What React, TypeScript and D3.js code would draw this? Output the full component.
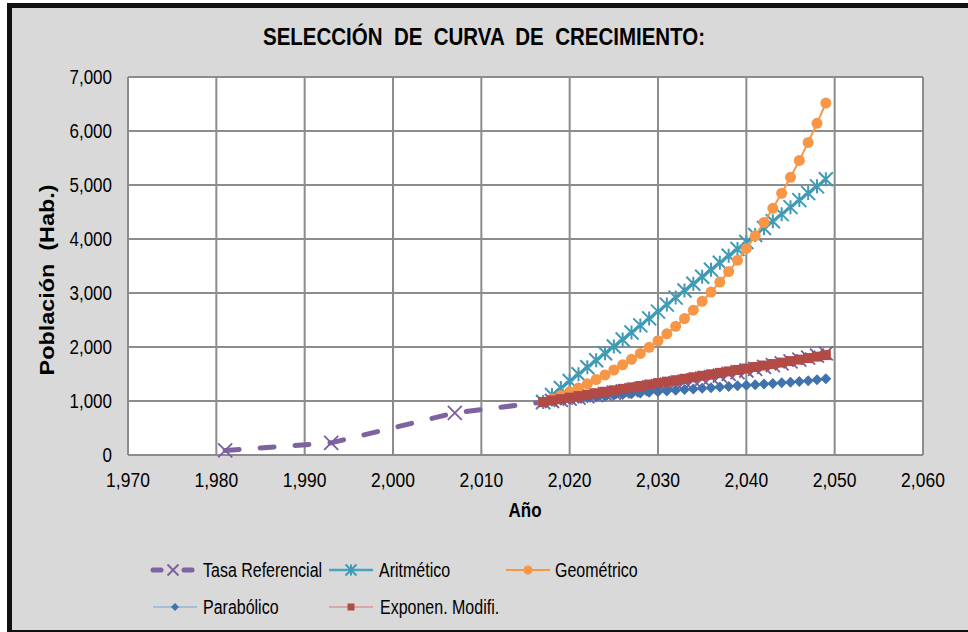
import React, { useRef, useEffect } from 'react'
import * as d3 from 'd3'

// años de proyección 2017..2049
const projYears = [2017, 2018, 2019, 2020, 2021, 2022, 2023, 2024, 2025, 2026, 2027, 2028, 2029, 2030, 2031, 2032, 2033,
  2034, 2035, 2036, 2037, 2038, 2039, 2040, 2041, 2042, 2043, 2044, 2045, 2046, 2047, 2048, 2049]

const tasaYears = [1981, 1993, 2007, ...projYears]
const tasaValues = [85, 225, 780, 980, 1000, 1021, 1042, 1063, 1085, 1107, 1130, 1153, 1177, 1201, 1226, 1251, 1277, 1303,
  1330, 1357, 1385, 1414, 1443, 1472, 1503, 1533, 1565, 1597, 1630, 1663, 1698, 1733, 1768, 1805, 1842, 1880]

const aritmetico = [980, 1110, 1240, 1370, 1495, 1625, 1755, 1885, 2010, 2140, 2270, 2400, 2530, 2655, 2785, 2915, 3045,
  3170, 3300, 3430, 3560, 3690, 3815, 3945, 4075, 4205, 4330, 4460, 4590, 4720, 4850, 4975, 5105]

const geometrico = [980, 1040, 1103, 1170, 1242, 1318, 1398, 1483, 1574, 1670, 1772, 1880, 1994, 2116, 2245, 2382, 2527,
  2681, 2845, 3018, 3203, 3398, 3605, 3825, 4058, 4306, 4568, 4847, 5143, 5456, 5789, 6142, 6517]

const parabolico = [980, 997, 1013, 1029, 1045, 1060, 1075, 1090, 1105, 1119, 1133, 1147, 1160, 1173, 1186, 1199, 1211,
  1223, 1235, 1247, 1258, 1270, 1281, 1292, 1303, 1314, 1325, 1336, 1347, 1360, 1375, 1392, 1410]

const exponencial = [980, 1010, 1035, 1062, 1090, 1117, 1144, 1171, 1198, 1225, 1252, 1278, 1305, 1332, 1358, 1385, 1412,
  1440, 1467, 1494, 1521, 1548, 1575, 1602, 1630, 1657, 1684, 1711, 1739, 1766, 1795, 1822, 1850]

const xTicks = [1970, 1980, 1990, 2000, 2010, 2020, 2030, 2040, 2050, 2060]
const yTicks = [0, 1000, 2000, 3000, 4000, 5000, 6000, 7000]

const title = 'SELECCIÓN  DE  CURVA  DE  CRECIMIENTO:'
const xTitle = 'Año'
const yTitle = 'Población  (Hab.)'

const W = 968
const H = 632
const FONT = 'Liberation Sans, Arial, sans-serif'

const series = [
  { name: 'Tasa Referencial', x: tasaYears, y: tasaValues, line: '#7f63a1', width: 5, dash: '14,21', marker: 'x', fill: '#7a5e9e' },
  { name: 'Aritmético', x: projYears, y: aritmetico, line: '#4aa3bd', width: 2.5, dash: null, marker: 'star', fill: '#3f9bb5' },
  { name: 'Geométrico', x: projYears, y: geometrico, line: '#f79646', width: 2, dash: null, marker: 'circle', fill: '#f79646' },
  { name: 'Parabólico', x: projYears, y: parabolico, line: '#95b3d7', width: 1.5, dash: null, marker: 'diamond', fill: '#4072ab' },
  { name: 'Exponen. Modifi.', x: projYears, y: exponencial, line: '#d99694', width: 1.5, dash: null, marker: 'square', fill: '#b24a46' },
]

function drawMarker(g: any, kind: string, color: string, s: number) {
  if (kind === 'x') {
    g.append('path').attr('d', `M${-s},${-s}L${s},${s}M${-s},${s}L${s},${-s}`)
      .attr('stroke', color).attr('stroke-width', 1.8).attr('fill', 'none')
  } else if (kind === 'star') {
    g.append('path').attr('d', `M${-s},${-s}L${s},${s}M${-s},${s}L${s},${-s}M0,${-s}L0,${s}`)
      .attr('stroke', color).attr('stroke-width', 2).attr('fill', 'none')
  } else if (kind === 'circle') {
    g.append('circle').attr('r', s).attr('fill', color)
  } else if (kind === 'diamond') {
    g.append('path').attr('d', `M0,${-s}L${s},0L0,${s}L${-s},0Z`).attr('fill', color)
  } else if (kind === 'square') {
    g.append('rect').attr('x', -s).attr('y', -s).attr('width', 2 * s).attr('height', 2 * s).attr('fill', color)
  }
}

const markerSize: Record<string, number> = { x: 7, star: 7, circle: 5.5, diamond: 5.5, square: 5 }

// sx: escala a lo largo del texto, sy: escala transversal
function addText(parent: any, x: number, y: number, txt: string, size: number, opts: any = {}) {
  const sx = opts.sx ?? 1
  const sy = opts.sy ?? 1.25
  const t = parent.append('text')
    .attr('transform', `translate(${x},${y}) ${opts.rotate ? 'rotate(-90)' : ''} scale(${sx},${sy})`)
    .attr('font-family', FONT)
    .attr('font-size', size)
    .attr('font-weight', opts.bold ? 'bold' : 'normal')
    .attr('text-anchor', opts.anchor ?? 'start')
    .attr('fill', '#000')
    .style('white-space', 'pre')
    .text(txt)
  return t
}

const App = () => {
  const ref = useRef<SVGSVGElement>(null)

  useEffect(() => {
    const svg = d3.select(ref.current)
    svg.selectAll('*').remove()

    // fondo del gráfico
    svg.append('rect').attr('x', 0).attr('y', 0).attr('width', W).attr('height', H).attr('fill', '#fff')
    svg.append('rect').attr('x', 9.5).attr('y', 5.5).attr('width', 1000).attr('height', 627)
      .attr('fill', '#d9d9d9').attr('stroke', '#111').attr('stroke-width', 5)

    const left = 128, right = 923, top = 77, bottom = 455
    const x = d3.scaleLinear().domain([1970, 2060]).range([left, right])
    const y = d3.scaleLinear().domain([0, 7000]).range([bottom, top])

    svg.append('rect').attr('x', left).attr('y', top).attr('width', right - left).attr('height', bottom - top)
      .attr('fill', '#fff')

    const grid = svg.append('g')
    grid.selectAll('line.v').data(xTicks).join('line').attr('class', 'v')
      .attr('x1', d => x(d)).attr('x2', d => x(d)).attr('y1', top).attr('y2', bottom)
      .attr('stroke', '#8c8c8c').attr('stroke-width', 2)
    grid.selectAll('line.h').data(yTicks).join('line').attr('class', 'h')
      .attr('x1', left).attr('x2', right).attr('y1', d => y(d)).attr('y2', d => y(d))
      .attr('stroke', '#8c8c8c').attr('stroke-width', 2)

    const fmt = d3.format(',')
    xTicks.forEach(t => addText(svg, x(t), 487, fmt(t), 17.5, { anchor: 'middle', sy: 1.15 }))
    yTicks.forEach(t => addText(svg, 112, y(t) + 7, fmt(t), 17, { anchor: 'end', sy: 1.15 }))

    addText(svg, 484, 45, title, 20.5, { anchor: 'middle', bold: true, sy: 1.15 })
    addText(svg, 525, 517, xTitle, 17, { anchor: 'middle', bold: true, sy: 1.2 })
    addText(svg, 54, 280, yTitle, 19.5, { anchor: 'middle', bold: true, rotate: true, sx: 1.2, sy: 1 })

    // series
    series.forEach(s => {
      const pts = s.x.map((yr, i) => [yr, s.y[i]] as [number, number])
      const line = d3.line<[number, number]>().x(d => x(d[0])).y(d => y(d[1]))
      svg.append('path').datum(pts).attr('d', line)
        .attr('fill', 'none').attr('stroke', s.line).attr('stroke-width', s.width)
        .attr('stroke-linecap', s.dash ? 'round' : 'butt')
        .attr('stroke-dasharray', s.dash)
      pts.forEach(p => {
        const g = svg.append('g').attr('transform', `translate(${x(p[0])},${y(p[1])})`)
        drawMarker(g, s.marker, s.fill, markerSize[s.marker])
      })
    })

    // leyenda
    const legendPos = [
      { sx: 151, tx: 203, y: 570 },
      { sx: 329, tx: 379, y: 570 },
      { sx: 506, tx: 555, y: 570 },
      { sx: 153, tx: 203, y: 607 },
      { sx: 329, tx: 380, y: 607 },
    ]
    const legendSize: Record<string, number> = { x: 5.5, star: 5.5, circle: 4.5, diamond: 4, square: 3.5 }
    series.forEach((s, i) => {
      const p = legendPos[i]
      const lg = svg.append('g')
      if (s.dash) {
        lg.append('line').attr('x1', p.sx + 2).attr('x2', p.sx + 10).attr('y1', p.y).attr('y2', p.y)
          .attr('stroke', s.line).attr('stroke-width', 5).attr('stroke-linecap', 'round')
        lg.append('line').attr('x1', p.sx + 33).attr('x2', p.sx + 41).attr('y1', p.y).attr('y2', p.y)
          .attr('stroke', s.line).attr('stroke-width', 5).attr('stroke-linecap', 'round')
      } else {
        lg.append('line').attr('x1', p.sx).attr('x2', p.sx + 44).attr('y1', p.y).attr('y2', p.y)
          .attr('stroke', s.line).attr('stroke-width', s.width)
      }
      const g = lg.append('g').attr('transform', `translate(${p.sx + 22},${p.y})`)
      drawMarker(g, s.marker, s.fill, legendSize[s.marker])
      addText(svg, p.tx, p.y + 7, s.name, 16, { sy: 1.3 })
    })
  }, [])

  return (
    <svg ref={ref} width={W} height={H} style={{ position: 'absolute', left: 0, top: 0 }} />
  )
}

export default App
